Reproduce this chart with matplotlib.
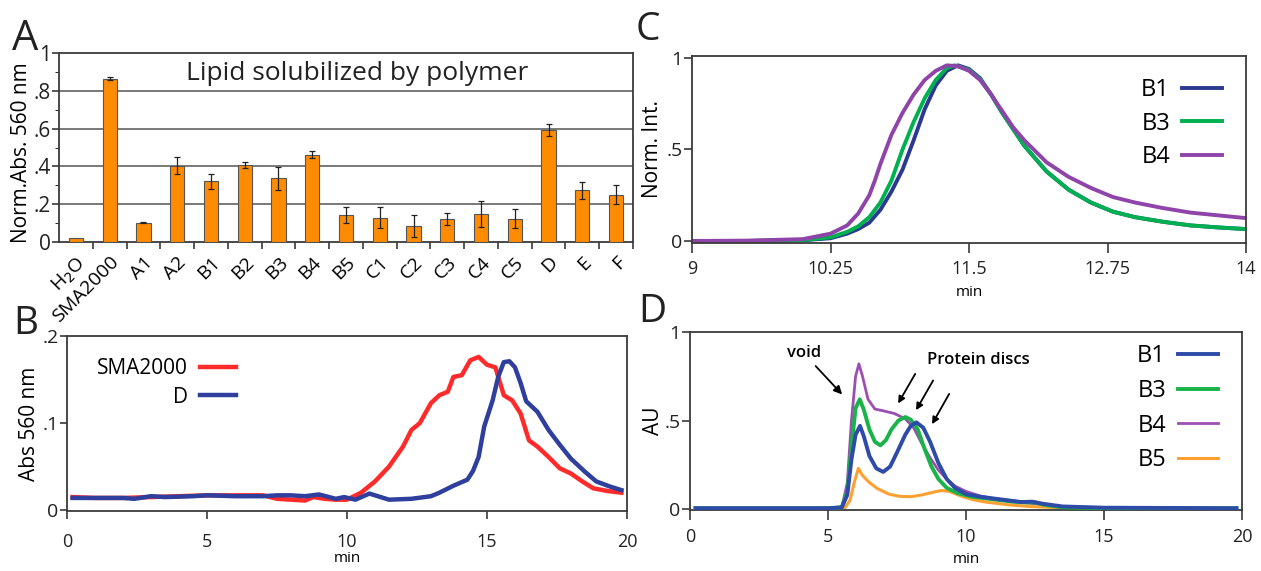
import numpy as np
import matplotlib
matplotlib.use("Agg")
import matplotlib.pyplot as plt
from matplotlib.ticker import FuncFormatter, FixedLocator

plt.rcParams['font.family'] = ['Open Sans', 'DejaVu Sans']

# ---- panel A: lipid solubilized by polymer
polymers = ['H$_2$O', 'SMA2000', 'A1', 'A2', 'B1', 'B2', 'B3', 'B4', 'B5',
            'C1', 'C2', 'C3', 'C4', 'C5', 'D', 'E', 'F']
lipid_abs = [0.02, 0.865, 0.103, 0.403, 0.322, 0.407, 0.336, 0.462, 0.142,
             0.129, 0.085, 0.124, 0.147, 0.124, 0.593, 0.274, 0.251]
lipid_err = [0.0, 0.01, 0.003, 0.045, 0.039, 0.016, 0.059, 0.02, 0.044,
             0.057, 0.057, 0.032, 0.069, 0.05, 0.033, 0.044, 0.05]

# ---- panel B: SEC absorbance at 560 nm
sma_t = [0.2, 1, 2, 3, 4, 5, 6, 7, 7.5, 8, 8.5, 8.8, 9.2, 9.6, 10.0, 10.5, 11.0,
         11.5, 12.0, 12.3, 12.6, 13.0, 13.3, 13.6, 13.8, 14.1, 14.4, 14.7, 15.0,
         15.3, 15.6, 15.9, 16.2, 16.5, 16.8, 17.2, 17.6, 18.0, 18.4, 18.8, 19.3, 19.8]
sma_abs = [0.015, 0.014, 0.014, 0.015, 0.016, 0.017, 0.017, 0.017, 0.013, 0.012,
           0.011, 0.015, 0.013, 0.012, 0.012, 0.02, 0.033, 0.05, 0.073, 0.092,
           0.1, 0.123, 0.132, 0.136, 0.153, 0.155, 0.172, 0.176, 0.167, 0.164,
           0.132, 0.126, 0.111, 0.08, 0.073, 0.061, 0.048, 0.042, 0.033, 0.025,
           0.022, 0.02]
d_t = [0.2, 1, 2, 2.4, 3, 3.5, 4.5, 5, 6, 7, 7.5, 8, 8.5, 9, 9.6, 9.9, 10.3, 10.8,
       11.5, 12.3, 13.0, 13.3, 13.8, 14.3, 14.5, 14.7, 14.9, 15.2, 15.4, 15.6,
       15.8, 16.0, 16.2, 16.4, 16.8, 17.2, 17.6, 18.0, 18.5, 18.9, 19.4, 19.8]
d_abs = [0.014, 0.014, 0.014, 0.013, 0.016, 0.015, 0.016, 0.017, 0.016, 0.016,
         0.017, 0.017, 0.016, 0.018, 0.013, 0.015, 0.012, 0.019, 0.012, 0.013,
         0.016, 0.02, 0.028, 0.035, 0.045, 0.061, 0.096, 0.126, 0.153, 0.17,
         0.171, 0.164, 0.146, 0.125, 0.113, 0.092, 0.075, 0.059, 0.044, 0.033,
         0.027, 0.023]

# ---- panel C: normalized intensity
c_b1_t = [9.0, 9.5, 10.0, 10.25, 10.4, 10.5, 10.6, 10.7, 10.8, 10.9, 11.0, 11.1,
          11.2, 11.3, 11.4, 11.5, 11.6, 11.7, 11.8, 11.9, 12.0, 12.2, 12.4, 12.6,
          12.8, 13.0, 13.25, 13.5, 13.75, 14.0]
c_b1 = [0.0, 0.0, 0.004, 0.015, 0.04, 0.065, 0.1, 0.17, 0.27, 0.39, 0.55, 0.72,
        0.85, 0.93, 0.96, 0.94, 0.89, 0.8, 0.7, 0.61, 0.52, 0.38, 0.28, 0.21,
        0.16, 0.13, 0.105, 0.085, 0.074, 0.065]
c_b3_t = [9.0, 9.5, 10.0, 10.25, 10.4, 10.5, 10.6, 10.7, 10.8, 10.9, 11.0, 11.1,
          11.2, 11.3, 11.37, 11.5, 11.6, 11.7, 11.8, 11.9, 12.0, 12.2, 12.4, 12.6,
          12.8, 13.0, 13.25, 13.5, 13.75, 14.0]
c_b3 = [0.0, 0.0, 0.005, 0.02, 0.05, 0.08, 0.13, 0.21, 0.33, 0.5, 0.65, 0.78,
        0.88, 0.945, 0.96, 0.935, 0.885, 0.8, 0.7, 0.61, 0.52, 0.38, 0.28, 0.21,
        0.16, 0.13, 0.105, 0.085, 0.074, 0.065]
c_b4_t = [9.0, 9.5, 10.0, 10.25, 10.4, 10.5, 10.6, 10.65, 10.7, 10.8, 10.9, 11.0,
          11.1, 11.2, 11.3, 11.4, 11.5, 11.6, 11.7, 11.8, 11.9, 12.0, 12.2, 12.4,
          12.6, 12.8, 13.0, 13.25, 13.5, 13.75, 14.0]
c_b4 = [0.0, 0.002, 0.01, 0.04, 0.085, 0.15, 0.25, 0.33, 0.42, 0.58, 0.7, 0.8,
        0.88, 0.93, 0.96, 0.955, 0.93, 0.88, 0.8, 0.71, 0.62, 0.55, 0.43, 0.35,
        0.29, 0.24, 0.21, 0.18, 0.155, 0.14, 0.125]

# ---- panel D: AU traces
d_b1_t = [0.2, 5.0, 5.5, 5.7, 5.85, 6.0, 6.16, 6.3, 6.5, 6.75, 7.0, 7.25, 7.5, 7.8,
          8.0, 8.2, 8.45, 8.7, 9.0, 9.3, 9.6, 10.0, 10.5, 11.0, 11.5, 12.0, 12.4,
          12.8, 13.5, 15.0, 19.8]
d_b1 = [0.005, 0.005, 0.01, 0.08, 0.28, 0.42, 0.47, 0.41, 0.3, 0.23, 0.21, 0.24,
        0.32, 0.42, 0.47, 0.49, 0.46, 0.38, 0.26, 0.17, 0.12, 0.085, 0.07, 0.06,
        0.05, 0.04, 0.042, 0.03, 0.015, 0.008, 0.005]
d_b3_t = [0.2, 5.0, 5.5, 5.7, 5.85, 6.0, 6.15, 6.3, 6.5, 6.7, 6.9, 7.1, 7.3, 7.55,
          7.8, 8.0, 8.25, 8.5, 8.75, 9.0, 9.3, 9.7, 10.2, 11.0, 11.7, 12.2, 12.5,
          12.8, 13.5, 15.0, 19.8]
d_b3 = [0.005, 0.005, 0.01, 0.1, 0.35, 0.57, 0.62, 0.56, 0.45, 0.38, 0.36, 0.39,
        0.45, 0.5, 0.52, 0.505, 0.45, 0.34, 0.24, 0.17, 0.12, 0.09, 0.07, 0.055,
        0.042, 0.037, 0.038, 0.025, 0.01, 0.005, 0.005]
d_b4_t = [0.2, 5.0, 5.5, 5.7, 5.85, 6.0, 6.12, 6.25, 6.45, 6.7, 7.0, 7.4, 7.8, 8.1,
          8.4, 8.7, 9.0, 9.3, 9.6, 10.0, 10.5, 11.0, 11.5, 12.0, 12.5, 13.0, 14.0,
          15.0, 19.8]
d_b4 = [0.005, 0.005, 0.01, 0.15, 0.5, 0.75, 0.82, 0.75, 0.62, 0.565, 0.555, 0.54,
        0.51, 0.46, 0.37, 0.29, 0.22, 0.17, 0.13, 0.1, 0.075, 0.06, 0.05, 0.04,
        0.03, 0.02, 0.01, 0.006, 0.005]
d_b5_t = [0.2, 5.0, 5.6, 5.8, 5.95, 6.1, 6.25, 6.5, 6.8, 7.2, 7.6, 8.0, 8.4, 8.8,
          9.1, 9.4, 9.8, 10.2, 10.7, 11.5, 12.3, 13.0, 14.0, 15.0, 19.8]
d_b5 = [0.005, 0.005, 0.005, 0.05, 0.15, 0.23, 0.19, 0.15, 0.115, 0.085, 0.072,
        0.07, 0.08, 0.095, 0.105, 0.1, 0.075, 0.055, 0.04, 0.025, 0.015, 0.01,
        0.005, 0.002, 0.002]

W, H = 1261, 571
fig = plt.figure(figsize=(W / 100, H / 100), dpi=100)


def box(l, t, r, b):
    return [l / W, 1 - b / H, (r - l) / W, (b - t) / H]


def nolead(v, pos=None):
    if abs(v) < 1e-9:
        return '0'
    if abs(v - 1) < 1e-9:
        return '1'
    return ('%g' % v).lstrip('0')


def style(ax):
    for s in ax.spines.values():
        s.set_color('#3a3a3a')
        s.set_linewidth(1.3)
    ax.tick_params(colors='#3a3a3a', labelcolor='#222222', width=1.2)


# ---------------- A
axA = fig.add_axes(box(59, 53, 633, 242))
x = np.arange(len(polymers))
axA.bar(x, lipid_abs, width=0.42, color='#ff8c00', edgecolor='#555555', linewidth=0.8,
        zorder=3)
axA.errorbar(x[1:], lipid_abs[1:], yerr=lipid_err[1:], fmt='none', ecolor='#222222',
             elinewidth=0.9, capsize=2, capthick=0.9, zorder=4)
axA.set_xlim(-0.5, len(polymers) - 0.5)
axA.set_ylim(0, 1)
for g in [0.2, 0.4, 0.6, 0.8]:
    axA.axhline(g, color='#555555', lw=1.1, zorder=1)
axA.set_yticks([0, 0.2, 0.4, 0.6, 0.8, 1.0])
axA.yaxis.set_minor_locator(FixedLocator([0.1, 0.3, 0.5, 0.7, 0.9]))
axA.yaxis.set_major_formatter(FuncFormatter(nolead))
axA.set_xticks(x + 0.5)
axA.set_xticklabels([])
axA.set_xticks(x, minor=True)
axA.set_xticklabels(polymers, minor=True, rotation=45, ha='right', va='top',
                    rotation_mode='anchor', fontsize=14)
axA.tick_params(axis='x', which='minor', length=0, pad=8)
axA.tick_params(axis='x', which='major', length=5, direction='out')
axA.tick_params(axis='y', which='major', labelsize=15, length=5, pad=1)
axA.tick_params(axis='y', which='minor', length=3)
axA.set_ylabel('Norm.Abs. 560 nm', fontsize=15, labelpad=0)
axA.yaxis.set_label_coords(-0.047, 0.47)
axA.text(0.52, 0.89, 'Lipid solubilized by polymer', transform=axA.transAxes,
         ha='center', va='center', fontsize=19, color='#222222')
style(axA)

# ---------------- B
axB = fig.add_axes(box(67, 336, 627, 511))
axB.plot(sma_t, sma_abs, color='#ff2b2b', lw=3.2, label='SMA2000')
axB.plot(d_t, d_abs, color='#2e3f9e', lw=3.2, label='D')
axB.set_xlim(0, 20)
axB.set_ylim(-0.001, 0.2)
axB.set_xticks([0, 5, 10, 15, 20])
axB.set_yticks([0, 0.1, 0.2])
axB.yaxis.set_major_formatter(FuncFormatter(nolead))
axB.tick_params(axis='x', labelsize=13, length=6, pad=10)
axB.tick_params(axis='y', labelsize=14, length=5, pad=1)
axB.set_xlabel('min', fontsize=11, labelpad=0)
axB.set_ylabel('Abs 560 nm', fontsize=15, labelpad=2)
axB.legend(loc='upper left', bbox_to_anchor=(0.02, 0.98), frameon=False,
           markerfirst=False, fontsize=15, handlelength=1.7, handletextpad=0.6,
           labelspacing=0.35)
style(axB)

# ---------------- C
axC = fig.add_axes(box(692, 56, 1246, 243))
axC.plot(c_b1_t, c_b1, color='#2b3990', lw=2.8, label='B1')
axC.plot(c_b3_t, c_b3, color='#00b050', lw=2.8, label='B3')
axC.plot(c_b4_t, c_b4, color='#8e44a8', lw=2.8, label='B4')
axC.set_xlim(9, 14)
axC.set_ylim(-0.011, 1.011)
axC.set_xticks([9, 10.25, 11.5, 12.75, 14])
axC.set_xticklabels(['9', '10.25', '11.5', '12.75', '14'])
axC.set_yticks([0, 0.5, 1])
axC.yaxis.set_major_formatter(FuncFormatter(nolead))
axC.tick_params(axis='x', labelsize=13, length=7, pad=5)
axC.tick_params(axis='y', labelsize=14, length=6, pad=1)
axC.set_xlabel('min', fontsize=11, labelpad=5)
axC.set_ylabel('Norm. Int.', fontsize=15, labelpad=2)
axC.legend(loc='upper right', bbox_to_anchor=(0.995, 0.995), frameon=False,
           markerfirst=False, fontsize=17, handlelength=1.7, handletextpad=0.5,
           labelspacing=0.4)
style(axC)

# ---------------- D
axD = fig.add_axes(box(690, 332, 1242, 510))
axD.plot(d_b4_t, d_b4, color='#9b4fb0', lw=2.0, label='B4', zorder=2)
axD.plot(d_b5_t, d_b5, color='#ffa030', lw=2.2, label='B5', zorder=2)
axD.plot(d_b3_t, d_b3, color='#19b34a', lw=2.8, label='B3', zorder=3)
axD.plot(d_b1_t, d_b1, color='#2e4ba8', lw=2.8, label='B1', zorder=4)
axD.set_xlim(0, 20)
axD.set_ylim(-0.005, 1.0)
axD.set_xticks([0, 5, 10, 15, 20])
axD.set_yticks([0, 0.5, 1])
axD.yaxis.set_major_formatter(FuncFormatter(nolead))
axD.tick_params(axis='x', labelsize=13, length=7, pad=6)
axD.tick_params(axis='y', labelsize=14, length=6, pad=1)
axD.set_xlabel('min', fontsize=11, labelpad=4)
axD.set_ylabel('AU', fontsize=15, labelpad=0)
h, l = axD.get_legend_handles_labels()
order = [l.index(k) for k in ['B1', 'B3', 'B4', 'B5']]
axD.legend([h[i] for i in order], [l[i] for i in order], loc='upper right',
           bbox_to_anchor=(0.995, 1.05), frameon=False, markerfirst=False, fontsize=17,
           handlelength=1.7, handletextpad=0.5, labelspacing=0.45)
axD.annotate('void', xy=(5.58, 0.636), xytext=(4.12, 0.88), ha='center', va='center',
             fontsize=12, fontweight='semibold',
             arrowprops=dict(arrowstyle='-|>', color='black', lw=1.3))
axD.text(10.45, 0.84, 'Protein discs', ha='center', va='center', fontsize=12,
         fontweight='semibold')
for (x0, y0), (x1, y1) in [((8.21, 0.777), (7.49, 0.583)),
                           ((8.86, 0.74), (8.14, 0.545)),
                           ((9.44, 0.664), (8.72, 0.466))]:
    axD.annotate('', xy=(x1, y1), xytext=(x0, y0),
                 arrowprops=dict(arrowstyle='-|>', color='black', lw=1.3))
style(axD)

for letter, px, py, fs in [('A', 12, 50, 30), ('B', 13, 334, 28),
                           ('C', 636, 40, 28), ('D', 638, 322, 28)]:
    fig.text(px / W, 1 - py / H, letter, fontsize=fs, color='#222222')

fig.savefig('out.png', dpi=100)
